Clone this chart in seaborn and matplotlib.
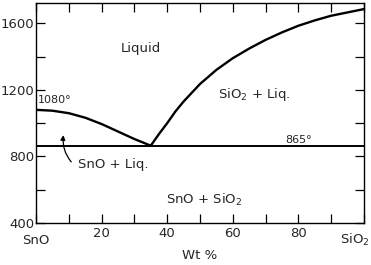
import matplotlib
matplotlib.use('Agg')
import matplotlib.pyplot as plt
import seaborn as sns
import numpy as np

# liquidus readings (wt % SiO2, temperature C)
left_x = [0, 5, 10, 15, 20, 25, 30, 35]
left_t = [1080, 1075, 1060, 1033, 995, 950, 905, 865]
right_x = [35, 37.5, 40, 42.5, 45, 50, 55, 60, 65, 70, 75, 80, 85, 90, 95, 100]
right_t = [865, 935, 1000, 1070, 1130, 1235, 1320, 1390, 1448, 1500, 1545, 1585, 1617, 1645, 1665, 1685]
eut_x = [0, 100]
eut_t = [865, 865]

xticks_major = [20, 40, 60, 80]
yticks_major = [400, 800, 1200, 1600]

sns.set_style('ticks')
plt.rcParams['font.family'] = ['DejaVu Sans']

fig = plt.figure(figsize=(3.71, 2.65), dpi=100)
ax = fig.add_axes([0.097, 0.158, 0.884, 0.831])

sns.lineplot(x=left_x, y=left_t, color='black', lw=1.7, ax=ax)
sns.lineplot(x=right_x, y=right_t, color='black', lw=1.7, ax=ax)
sns.lineplot(x=eut_x, y=eut_t, color='black', lw=1.4, ax=ax)

ax.set_xlim(0, 100)
ax.set_ylim(400, 1722)
ax.set_xticks(xticks_major)
ax.set_xticks(np.arange(0, 101, 10), minor=True)
ax.set_yticks(yticks_major)
ax.set_yticks(np.arange(400, 1701, 200), minor=True)
ax.tick_params(which='both', direction='in', length=6.5, width=0.9,
               top=True, right=True, labelsize=9.5, color='black')
ax.tick_params(axis='x', pad=3)
ax.tick_params(axis='y', pad=1)
for s in ax.spines.values():
    s.set_linewidth(1.0)
    s.set_color('black')

fs = 9.5
ax.text(32, 1450, 'Liquid', fontsize=fs, ha='center', va='center')
ax.text(66.5, 1170, 'SiO$_2$ + Liq.', fontsize=fs, ha='center', va='center')
ax.text(0.5, 1140, '1080°', fontsize=8, ha='left', va='center')
ax.text(80, 900, '865°', fontsize=8, ha='center', va='center')
ax.text(12.8, 750, 'SnO + Liq.', fontsize=fs, ha='left', va='center')
ax.text(51.4, 540, 'SnO + SiO$_2$', fontsize=fs, ha='center', va='center')
ax.annotate('', xy=(8.5, 945), xytext=(11.3, 755),
            arrowprops=dict(arrowstyle='-|>', color='black', lw=0.9,
                            mutation_scale=7, connectionstyle='arc3,rad=-0.25'))

ax.text(0, -0.08, 'SnO', transform=ax.transAxes, fontsize=fs, ha='center', va='center')
fig.text(0.995, 0.095, 'SiO$_2$', fontsize=fs, ha='right', va='center')
ax.set_xlabel('Wt %', fontsize=fs, labelpad=6)
ax.set_ylabel('')

fig.savefig('out.png', dpi=100)
